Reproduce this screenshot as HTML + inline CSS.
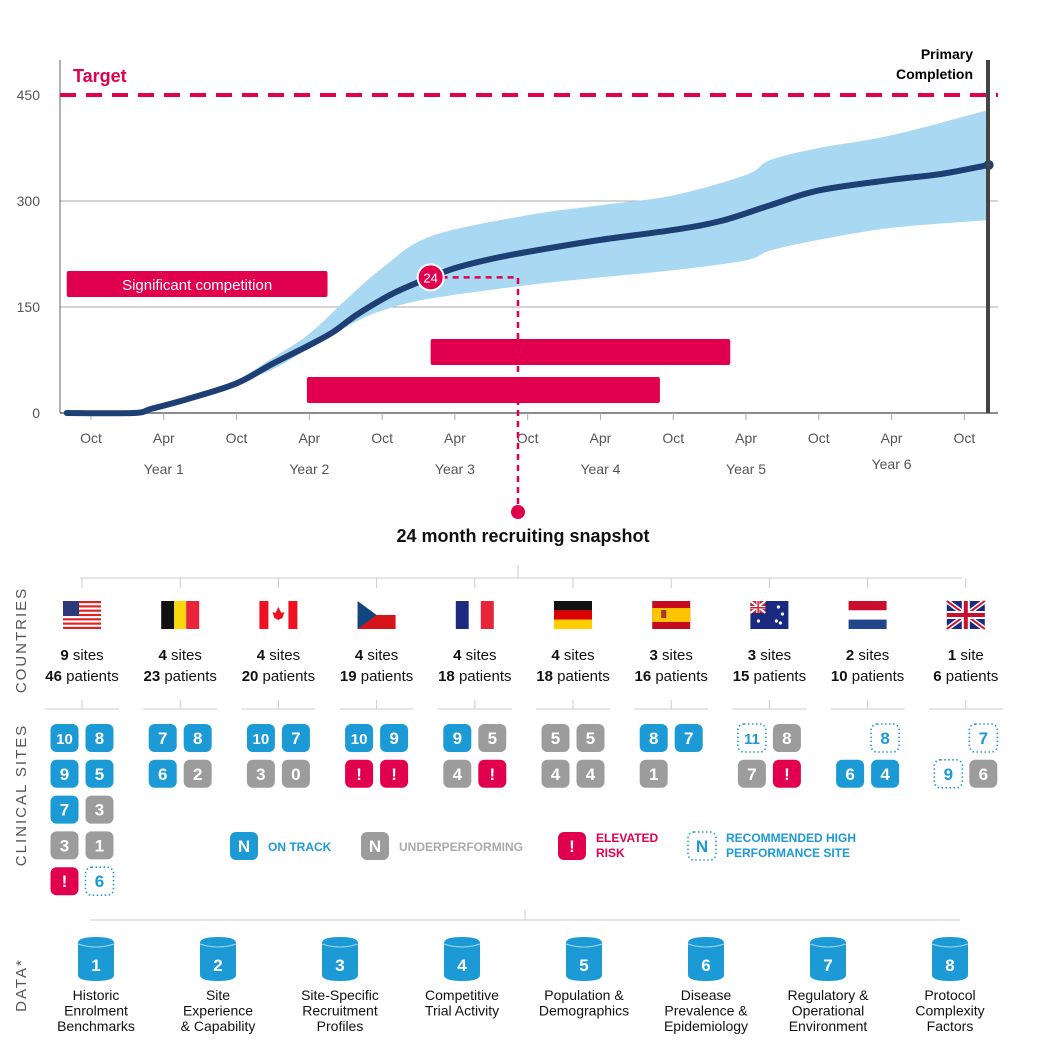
<!DOCTYPE html>
<html><head><meta charset="utf-8"><style>
body{margin:0;background:#fff;}
svg{display:block;font-family:"Liberation Sans",sans-serif;}
</style></head><body>
<svg id="s" width="1042" height="1058" viewBox="0 0 1042 1058">
<g id="chart"></g>
<g id="lower"></g>
</svg>
<script>
const monthsMed=[-2,3.5,5,8,12,15,18,20,22,25,28,30,33,36,42,48,52,56,60,66,70,74];
const medVals=[0,0,6,20,42,70,96,115,140,170,192,205,218,228,245,259,272,294,315,330,338,351];
const bandMonths=[12,15,18,21,24,28,36,42,48,54,56,60,66,74];
const bandUpper=[45,78,112,160,205,250,280,294,308,337,358,375,393,429];
const bandLower=[42,62,92,122,145,162,181,192,202,216,230,245,262,273];
const yTicks=[0,150,300,450];
const xTickLabels=["Oct","Apr","Oct","Apr","Oct","Apr","Oct","Apr","Oct","Apr","Oct","Apr","Oct"];
const yearLabels=["Year 1","Year 2","Year 3","Year 4","Year 5","Year 6"];
const target=450;
const compBars=[[-2,19.5,"Significant competition"],[28,52.7,""],[17.8,46.9,""]];
const countries=["US","BE","CA","CZ","FR","DE","ES","AU","NL","UK"];
const siteCounts=[9,4,4,4,4,4,3,3,2,1];
const patientCounts=[46,23,20,19,18,18,16,15,10,6];
const siteBadges=[
 [["10","b"],["8","b"],["9","b"],["5","b"],["7","b"],["3","g"],["3","g"],["1","g"],["!","r"],["6","d"]],
 [["7","b"],["8","b"],["6","b"],["2","g"]],
 [["10","b"],["7","b"],["3","g"],["0","g"]],
 [["10","b"],["9","b"],["!","r"],["!","r"]],
 [["9","b"],["5","g"],["4","g"],["!","r"]],
 [["5","g"],["5","g"],["4","g"],["4","g"]],
 [["8","b"],["7","b"],["1","g"]],
 [["11","d"],["8","g"],["7","g"],["!","r"]],
 [null,["8","d"],["6","b"],["4","b"]],
 [null,["7","d"],["9","d"],["6","g"]]];
const dataSources=[["Historic","Enrolment","Benchmarks"],["Site","Experience","& Capability"],["Site-Specific","Recruitment","Profiles"],["Competitive","Trial Activity"],["Population &","Demographics"],["Disease","Prevalence &","Epidemiology"],["Regulatory &","Operational","Environment"],["Protocol","Complexity","Factors"]];

const NS="http://www.w3.org/2000/svg";
function mk(tag,attrs,parent,txt){const e=document.createElementNS(NS,tag);for(const k in attrs)e.setAttribute(k,attrs[k]);if(txt!==undefined)e.textContent=txt;parent.appendChild(e);return e;}
const X=m=>91+m*12.13;
const Y=v=>413-v*0.7067;
const RED="#e0004d",BLUE="#1c9ad6",GRAY="#9c9c9c",NAVY="#1d3f73";
const C=document.getElementById('chart');
function spline(pts,move){let d=move?"M"+pts[0][0]+","+pts[0][1]:" L"+pts[0][0]+","+pts[0][1];
 for(let i=0;i<pts.length-1;i++){const p0=pts[i-1]||pts[i],p1=pts[i],p2=pts[i+1],p3=pts[i+2]||p2;
  d+=` C${p1[0]+(p2[0]-p0[0])/6},${p1[1]+(p2[1]-p0[1])/6} ${p2[0]-(p3[0]-p1[0])/6},${p2[1]-(p3[1]-p1[1])/6} ${p2[0]},${p2[1]}`;}
 return d;}

yTicks.forEach(v=>{
 if(v>0&&v<450){const g=mk('line',{x1:60,x2:998,y1:Y(v),y2:Y(v),stroke:'#aaa','stroke-width':1},C);
 }
 const t=mk('text',{x:40,y:Y(v)+5,'text-anchor':'end','font-size':14,fill:'#555'},C,String(v));
 
});
mk('line',{x1:60,x2:60,y1:60,y2:413,stroke:'#666','stroke-width':1},C);
const up=bandMonths.map((m,i)=>[X(m),Y(bandUpper[i])]);
const lo=bandMonths.map((m,i)=>[X(m),Y(bandLower[i])]).reverse();
const band=mk('path',{d:spline(up,true)+spline(lo,false)+"Z",fill:'#a9d9f2'},C);

mk('line',{x1:60,x2:998,y1:413,y2:413,stroke:'#666','stroke-width':1.5},C);
xTickLabels.forEach((l,i)=>{
 const x=X(i*6);
 mk('line',{x1:x,x2:x,y1:413,y2:420,stroke:'#aaa'},C);
 const t=mk('text',{x:x,y:443,'text-anchor':'middle','font-size':14,fill:'#555'},C,l);
 
});
yearLabels.forEach((l,i)=>{
 const t=mk('text',{x:X(6+i*12),y:i==5?469:474,'text-anchor':'middle','font-size':14,fill:'#555'},C,l);
 
});
const tl=mk('line',{x1:60,x2:998,y1:Y(target),y2:Y(target),stroke:RED,'stroke-width':4,'stroke-dasharray':'16,10'},C);

const tt=mk('text',{x:73,y:82,'font-size':18,'font-weight':'bold',fill:RED},C,"Target");

compBars.forEach(b=>{
 const r=mk('rect',{x:X(b[0]),y:0,width:X(b[1])-X(b[0]),height:26,rx:2,fill:RED},C);
 
 if(b[0]<0)r.setAttribute('y',271);else if(b[0]>20)r.setAttribute('y',339);else r.setAttribute('y',377);
 if(b[2]){const t=mk('text',{x:(X(b[0])+X(b[1]))/2,y:290,'text-anchor':'middle','font-size':15,fill:'#fff'},C,b[2]);
 }
});
const ml=mk('path',{d:spline(monthsMed.map((m,i)=>[X(m),Y(medVals[i])]),true),fill:'none',stroke:NAVY,'stroke-width':6,'stroke-linejoin':'round','stroke-linecap':'round'},C);

mk('circle',{cx:X(74),cy:Y(351),r:5,fill:NAVY},C);
mk('line',{x1:988,x2:988,y1:60,y2:413,stroke:'#444','stroke-width':4},C);
mk('text',{x:973,y:59,'text-anchor':'end','font-size':14,'font-weight':'bold'},C,"Primary");
mk('text',{x:973,y:79,'text-anchor':'end','font-size':14,'font-weight':'bold'},C,"Completion");
const sm=28;
mk('path',{d:`M${X(sm)},${Y(192)} H518 V510`,fill:'none',stroke:RED,'stroke-width':2.5,'stroke-dasharray':'6,5'},C);
const mc=mk('circle',{cx:X(sm),cy:Y(192),r:13,fill:RED,stroke:'#fff','stroke-width':2},C);

mk('text',{x:X(sm),y:Y(192)+5,'text-anchor':'middle','font-size':13,fill:'#fff'},C,"24");
mk('circle',{cx:518,cy:512,r:7,fill:RED},C);
const st=mk('text',{x:523,y:542,'text-anchor':'middle','font-size':18,'font-weight':'bold',fill:'#111'},C,"24 month recruiting snapshot");


const L=document.getElementById('lower');
const cx=i=>82+i*98.2;
mk('line',{x1:80,x2:962,y1:578,y2:578,stroke:'#ccc'},L);
mk('line',{x1:518,x2:518,y1:565,y2:578,stroke:'#ccc'},L);
function side(txt,y){const t=mk('text',{x:0,y:0,transform:`translate(26,${y}) rotate(-90)`,'text-anchor':'middle','font-size':15,fill:'#555','letter-spacing':2},L,txt);
 }
side("COUNTRIES",640);side("CLINICAL SITES",795);side("DATA*",985);
function flag(c,x,y){const g=mk('g',{transform:`translate(${x-19},${y})`},L);
 
 const W=38,H=28,r=(a,b,w,h,f)=>mk('rect',{x:a,y:b,width:w,height:h,fill:f},g);
 if(c=="US"){r(0,0,W,H,'#fff');for(let k=0;k<7;k++)r(0,k*H/6.5,W,H/13,'#d22');r(0,0,16,15,'#2a3a7a');}
 else if(c=="BE"){r(0,0,13,H,'#111');r(13,0,12,H,'#fbd80e');r(25,0,13,H,'#e8243a');}
 else if(c=="CA"){r(0,0,W,H,'#fff');r(0,0,9,H,'#e12');r(29,0,9,H,'#e12');mk('path',{d:'M19 6 L22 12 L25 11 L23 17 L19 19 L15 17 L13 11 L16 12Z',fill:'#e12'},g);}
 else if(c=="CZ"){r(0,0,W,H/2,'#fff');r(0,H/2,W,H/2,'#d7141a');mk('path',{d:`M0 0 L19 ${H/2} L0 ${H}Z`,fill:'#11457e'},g);}
 else if(c=="FR"){r(0,0,13,H,'#1c2a80');r(13,0,12,H,'#fff');r(25,0,13,H,'#e8243a');}
 else if(c=="DE"){r(0,0,W,9.4,'#111');r(0,9.3,W,9.4,'#dd0000');r(0,18.6,W,9.4,'#ffce00');}
 else if(c=="ES"){r(0,0,W,H,'#c60b1e');r(0,7,W,14,'#ffc400');r(9,9,5,8,'#a33');}
 else if(c=="AU"){r(0,0,W,H,'#1a2a80');r(0,0,15,12,'#c23');mk('path',{d:'M0 0 L15 12 M15 0 L0 12',stroke:'#fff','stroke-width':2},g);r(6,0,3,12,'#fff');r(0,5,15,3,'#fff');r(7,0,1.5,12,'#c23');r(0,6,15,1.5,'#c23');
   [[8,20],[28,6],[32,13],[26,20],[30,22]].forEach(p=>mk('circle',{cx:p[0],cy:p[1],r:1.6,fill:'#fff'},g));}
 else if(c=="NL"){r(0,0,W,9.4,'#c8102e');r(0,9.3,W,9.4,'#fff');r(0,18.6,W,9.4,'#21468b');}
 else if(c=="UK"){r(0,0,W,H,'#1a2a80');mk('path',{d:`M0 0 L${W} ${H} M${W} 0 L0 ${H}`,stroke:'#fff','stroke-width':5},g);mk('path',{d:`M0 0 L${W} ${H} M${W} 0 L0 ${H}`,stroke:'#c8102e','stroke-width':2},g);r(15,0,8,H,'#fff');r(0,10,W,8,'#fff');r(17,0,4,H,'#c8102e');r(0,12,W,4,'#c8102e');}
}
function badge(x,y,label,type,parent){
 const g=mk('g',{},parent);
 
 const f={b:BLUE,g:GRAY,r:RED,d:'#fff'}[type];
 if(type=="d")mk('rect',{x:x-14,y:y-14,width:28,height:28,rx:6,fill:'#fff',stroke:BLUE,'stroke-width':1.6,'stroke-dasharray':'1.5,2.5'},g);
 else mk('rect',{x:x-14,y:y-14,width:28,height:28,rx:6,fill:f},g);
 mk('text',{x:x,y:y+6,'text-anchor':'middle','font-size':label.length>1?15:17,'font-weight':'bold',fill:type=="d"?BLUE:'#fff'},g,label);
}
countries.forEach((c,i)=>{
 const x=cx(i);
 mk('line',{x1:x,x2:x,y1:578,y2:588,stroke:'#ccc'},L);
 flag(c,x,601);
 const t1=mk('text',{x:x,y:660,'text-anchor':'middle','font-size':15,fill:'#111'},L);
 
 mk('tspan',{'font-weight':'bold'},t1,String(siteCounts[i]));mk('tspan',{},t1,siteCounts[i]==1?" site":" sites");
 const t2=mk('text',{x:x,y:681,'text-anchor':'middle','font-size':15,fill:'#111'},L);
 
 mk('tspan',{'font-weight':'bold'},t2,String(patientCounts[i]));mk('tspan',{},t2," patients");
 mk('line',{x1:x-37,x2:x+37,y1:709,y2:709,stroke:'#ccc'},L);
 mk('line',{x1:x,x2:x,y1:700,y2:709,stroke:'#ccc'},L);
 siteBadges[i].forEach((b,k)=>{if(!b)return;badge(x+(k%2?17.5:-17.5),738+Math.floor(k/2)*35.8,b[0],b[1],L);});
});
const leg=[[244,"N","b","ON TRACK",null,BLUE],[375,"N","g","UNDERPERFORMING",null,'#aaa'],[572,"!","r","ELEVATED","RISK",RED],[702,"N","d","RECOMMENDED HIGH","PERFORMANCE SITE",BLUE]];
leg.forEach(l=>{
 badge(l[0],846,l[1],l[2],L);
 const t=mk('text',{x:l[0]+24,y:l[4]?842:851,'font-size':12,'font-weight':'bold',fill:l[5]},L,l[3]);
 
 if(l[4])mk('text',{x:l[0]+24,y:857,'font-size':12,'font-weight':'bold',fill:l[5]},L,l[4]);
});
mk('line',{x1:90,x2:960,y1:920,y2:920,stroke:'#ccc'},L);
mk('line',{x1:525,x2:525,y1:910,y2:920,stroke:'#ccc'},L);
dataSources.forEach((lines,i)=>{
 const x=96+i*122;
 const g=mk('g',{},L);
 
 mk('path',{d:`M${x-18},943 Q${x-18},937 ${x},937 Q${x+18},937 ${x+18},943 V975 Q${x+18},981 ${x},981 Q${x-18},981 ${x-18},975Z`,fill:BLUE},g);
 mk('path',{d:`M${x-18},944 Q${x},950 ${x+18},944`,fill:'none',stroke:'#fff','stroke-width':1,opacity:0.6},g);
 mk('text',{x:x,y:971,'text-anchor':'middle','font-size':17,'font-weight':'bold',fill:'#fff'},g,String(i+1));
 lines.forEach((s,k)=>{const t=mk('text',{x:x,y:1000+k*15.5,'text-anchor':'middle','font-size':14,fill:'#111'},L,s);
 });
});
</script>
</body></html>
